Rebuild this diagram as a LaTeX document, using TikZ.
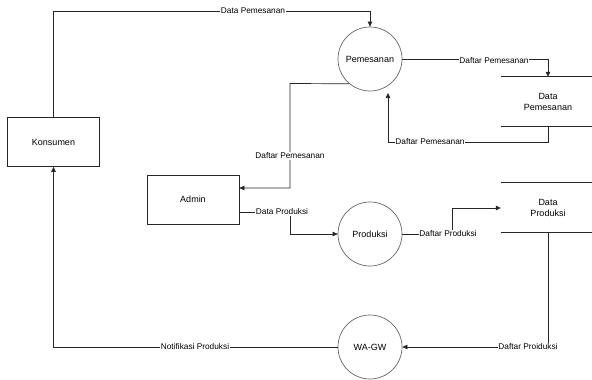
\documentclass[tikz,border=0pt]{standalone}
\usepackage{fontspec}
\setmainfont{Liberation Sans}
\usetikzlibrary{arrows.meta}
\begin{document}
\begin{tikzpicture}[x=1pt,y=-1pt,
  ln/.style={line width=0.7pt, draw=black!85},
  arr/.style={ln, -{Triangle[length=5pt,width=4.5pt]}},
  ent/.style={ln, rectangle, minimum width=92pt, minimum height=49pt, inner sep=0pt, font=\fontsize{9}{10}\selectfont},
  proc/.style={ln, draw=black!60, circle, minimum size=64pt, inner sep=0pt, font=\fontsize{9}{10}\selectfont},
  store/.style={rectangle, minimum width=94pt, minimum height=49pt, inner sep=0pt, align=center, font=\fontsize{9}{11}\selectfont},
  lbl/.style={fill=white, inner sep=0.8pt, font=\fontsize{8.3}{9}\selectfont}]
\useasboundingbox (0,0) rectangle (592,380);
% nodes
\node[ent] (kons) at (53.5,142) {Konsumen};
\node[ent] (admin) at (193,199.5) {Admin};
\node[proc] (pem) at (370,59) {Pemesanan};
\node[proc] (prod) at (370,234) {Produksi};
\node[proc] (wa) at (370,347) {WA-GW};
\node[store] (dp) at (548,101.5) {Data\\Pemesanan};
\node[store] (dpr) at (548,207.5) {Data\\Produksi};
\draw[ln] (dp.north west) -- (dp.north east);
\draw[ln] (dp.south west) -- (dp.south east);
\draw[ln] (dpr.north west) -- (dpr.north east);
\draw[ln] (dpr.south west) -- (dpr.south east);
\coordinate (pemin) at (388,93);
% connectors
\draw[arr] (kons.north) |- (pem.north |- 0,11) -- (pem.north);
\draw[arr] (pem.east) -| (dp.north);
\draw[arr] (dp.south) |- (pemin |- 0,142) -- (pemin);
\draw[arr] (pem.230) -- (290,83.5) -- (290,188) -- (admin.east |- 0,188);
\draw[arr] (admin.east |- 0,212) -| (290,234) -- (prod.west);
\draw[arr] (prod.east) -| (452,208) -- (dpr.west |- 0,208);
\draw[arr] (dpr.south) |- (wa.east);
\draw[arr] (wa.west) -| (kons.south);
% labels
\node[lbl] (l1) at (253,11) {Data Pemesanan};
\node[lbl] (l2) at (494,61) {Daftar Pemesanan};
\node[lbl] (l3) at (430,142) {Daftar Pemesanan};
\node[lbl] (l4) at (290,156) {Daftar Pemesanan};
\node[lbl] (l5) at (282,212) {Data Produksi};
\node[lbl] (l6) at (448,234) {Daftar Produksi};
\node[lbl] (l7) at (528,347) {Daftar Proiduksi};
\node[lbl] (l8) at (195,347) {Notifikasi Produksi};
\end{tikzpicture}
\end{document}
